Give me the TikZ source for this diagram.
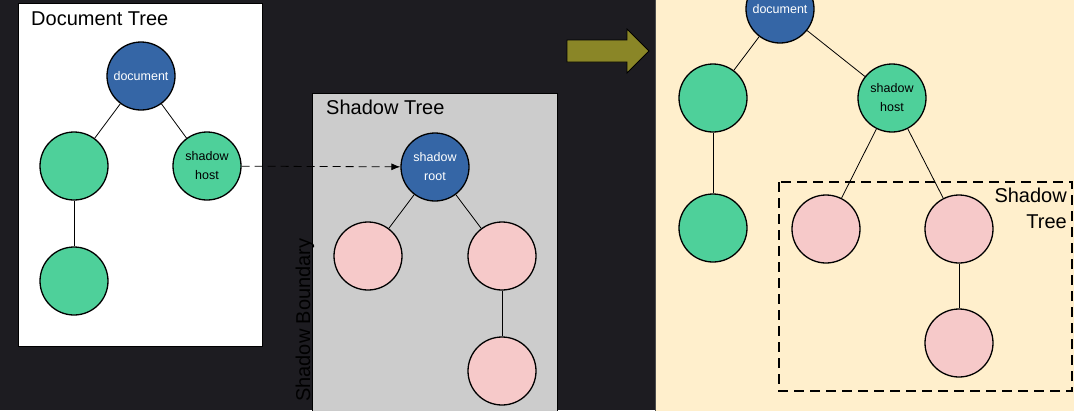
\documentclass[tikz,border=0pt]{standalone}
\usepackage{fontspec}
\setmainfont{Liberation Sans}
\usetikzlibrary{arrows.meta}

\definecolor{bgdark}{HTML}{1D1C21}
\definecolor{docblue}{HTML}{3566A6}
\definecolor{hostgreen}{HTML}{4ED09A}
\definecolor{shadowpink}{HTML}{F6C9C9}
\definecolor{boxgray}{HTML}{CCCCCC}
\definecolor{panelbeige}{HTML}{FFEFCC}
\definecolor{arrowolive}{HTML}{8A8627}

\tikzset{
    vertex/.style={circle, draw=black, line width=1.3pt, minimum size=68pt, inner sep=0pt,
        align=center, font=\fontsize{12.5}{19}\selectfont},
    docnode/.style={vertex, fill=docblue, text=white},
    greennode/.style={vertex, fill=hostgreen},
    pinknode/.style={vertex, fill=shadowpink},
    edge/.style={draw=black, line width=0.8pt},
    boxtitle/.style={font=\fontsize{20}{24}\selectfont, inner sep=0pt}
}

\begin{document}
\begin{tikzpicture}[x=1pt, y=-1pt]
        \useasboundingbox (0,0) rectangle (1074,410);
        \clip (0,0) rectangle (1074,410);
        \fill[bgdark] (0,0) rectangle (1074,410);

        % Boxes
        \filldraw[fill=white, draw=black, line width=0.8pt] (18,3) rectangle (262,346);
        \filldraw[fill=boxgray, draw=black, line width=0.8pt] (312,93) rectangle (557,415);
        \filldraw[fill=panelbeige, draw=black!70, line width=0.8pt] (655,-5) rectangle (1080,415);
        \node[boxtitle, anchor=base west] (doctitle) at (31,25) {Document Tree};
        \node[boxtitle, anchor=base west] (shadowtitle) at (326,114) {Shadow Tree};
        \node[boxtitle, anchor=base west, rotate=90] (boundary) at (310,402) {Shadow Boundary};

        % Document tree (left)
        \node[docnode] (doc) at (141,76) {document};
        \node[greennode] (l1) at (74,166) {};
        \node[greennode] (host) at (207,166) {shadow\\host};
        \node[greennode] (l2) at (74,281) {};

        % Shadow tree (middle)
        \node[docnode] (root) at (435,167) {shadow\\root};
        \node[pinknode] (s1) at (368,256) {};
        \node[pinknode] (s2) at (502,256) {};
        \node[pinknode] (s3) at (502,371) {};

        \draw[edge] (doc) -- (l1);
        \draw[edge] (doc) -- (host);
        \draw[edge] (l1) -- (l2);

        \draw[edge] (root) -- (s1);
        \draw[edge] (root) -- (s2);
        \draw[edge] (s2) -- (s3);

        \draw[edge, dash pattern=on 8pt off 5pt, -{Latex[length=9pt, width=7pt]}] (host) -- (root);

        % Big arrow
        \filldraw[fill=arrowolive, draw=black, line width=0.8pt]
            (567,40) -- (627,40) -- (627,29) -- (649,51) -- (627,73) -- (627,62) -- (567,62) -- cycle;

        % Composed tree (right)
        \draw[black, line width=1.4pt, dash pattern=on 10pt off 6pt] (779,182) rectangle (1072,391);
        \node[boxtitle, anchor=base east, align=right, font=\fontsize{20}{26}\selectfont] (flattitle) at (1067,228) {Shadow\\Tree};

        \node[docnode] (fdoc) at (780,9) {document};
        \node[greennode] (fl1) at (713,98) {};
        \node[greennode] (fhost) at (892,98) {shadow\\host};
        \node[greennode] (fl2) at (713,228) {};
        \node[pinknode] (fs1) at (826,229) {};
        \node[pinknode] (fs2) at (959,229) {};
        \node[pinknode] (fs3) at (959,343) {};

        \draw[edge] (fdoc) -- (fl1);
        \draw[edge] (fdoc) -- (fhost);
        \draw[edge] (fl1) -- (fl2);
        \draw[edge] (fhost) -- (fs1);
        \draw[edge] (fhost) -- (fs2);
        \draw[edge] (fs2) -- (fs3);
    \end{tikzpicture}
\end{document}
